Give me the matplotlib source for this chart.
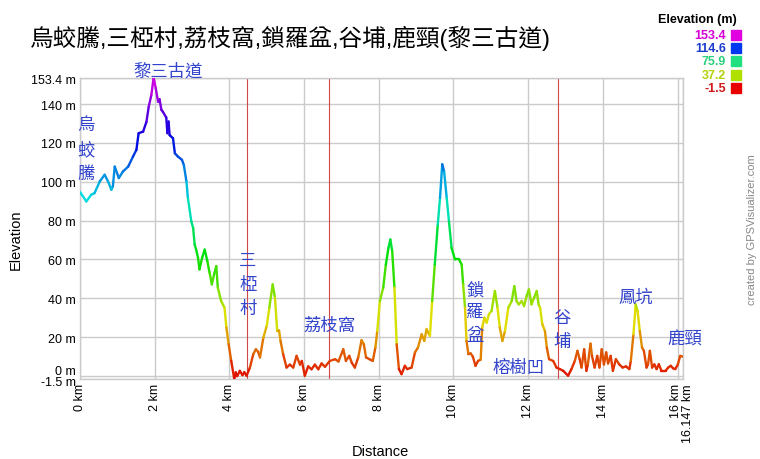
import matplotlib
matplotlib.use("Agg")
import matplotlib.pyplot as plt
import numpy as np
from matplotlib.collections import LineCollection
from matplotlib.colors import hsv_to_rgb
from matplotlib.transforms import ScaledTranslation

plt.rcParams['font.family'] = ['Liberation Sans', 'Noto Sans CJK TC', 'DejaVu Sans']

# ---------------- data ----------------
title = "烏蛟騰,三椏村,荔枝窩,鎖羅盆,谷埔,鹿頸(黎三古道)"

dist_km = [0.00, 0.17, 0.30, 0.39, 0.53, 0.66, 0.75, 0.84, 0.88, 0.93, 1.04, 1.15, 1.29, 1.42,
           1.51, 1.57, 1.69, 1.78, 1.84, 1.91, 1.97, 2.03, 2.09, 2.13, 2.18, 2.22, 2.31, 2.34,
           2.37, 2.40, 2.49, 2.54, 2.62, 2.73, 2.78, 2.85, 2.89, 2.98, 3.03, 3.07, 3.11, 3.16,
           3.20, 3.27, 3.34, 3.41, 3.47, 3.53, 3.59, 3.65, 3.69, 3.78, 3.87, 3.92, 3.98, 4.05,
           4.13, 4.17, 4.21, 4.28, 4.35, 4.40, 4.46, 4.55, 4.64, 4.71, 4.77, 4.82, 4.91, 5.00,
           5.07, 5.16, 5.22, 5.28, 5.33, 5.37, 5.44, 5.53, 5.62, 5.71, 5.80, 5.89, 5.94, 6.02,
           6.11, 6.20, 6.29, 6.38, 6.47, 6.56, 6.69, 6.83, 6.92, 7.05, 7.12, 7.21, 7.28, 7.36,
           7.45, 7.54, 7.60, 7.66, 7.75, 7.84, 7.91, 7.96, 8.03, 8.12, 8.19, 8.26, 8.31, 8.36,
           8.42, 8.48, 8.54, 8.61, 8.70, 8.76, 8.88, 8.97, 9.05, 9.15, 9.22, 9.28, 9.37, 9.43,
           9.50, 9.58, 9.64, 9.70, 9.75, 9.82, 9.88, 9.95, 10.04, 10.15, 10.22, 10.26, 10.31,
           10.35, 10.40, 10.46, 10.52, 10.59, 10.66, 10.73, 10.77, 10.83, 10.89, 10.95, 11.02,
           11.11, 11.18, 11.24, 11.31, 11.38, 11.47, 11.56, 11.63, 11.69, 11.75, 11.83, 11.89,
           11.96, 12.02, 12.09, 12.16, 12.23, 12.28, 12.32, 12.38, 12.45, 12.50, 12.56, 12.67,
           12.76, 12.85, 12.94, 13.07, 13.16, 13.25, 13.32, 13.38, 13.43, 13.50, 13.56, 13.60,
           13.67, 13.71, 13.78, 13.85, 13.91, 13.97, 14.03, 14.09, 14.14, 14.21, 14.27, 14.35,
           14.44, 14.53, 14.62, 14.71, 14.75, 14.82, 14.88, 14.93, 14.99, 15.05, 15.10, 15.17,
           15.21, 15.26, 15.32, 15.38, 15.44, 15.50, 15.57, 15.68, 15.75, 15.82, 15.88, 15.94,
           16.01, 16.07, 16.147]

elev_m = [94.7, 89.9, 93.3, 94.2, 100.2, 103.6, 100.2, 95.9, 97.6, 107.8, 101.9, 105.3, 107.8, 113.0,
          116.4, 125.0, 125.8, 130.9, 138.6, 144.6, 153.4, 148.0, 141.2, 142.5, 137.0, 136.0, 133.0, 125.0,
          131.0, 124.0, 122.4, 114.7, 113.0, 111.3, 108.7, 100.2, 91.6, 79.6, 76.2, 67.7, 65.1, 60.9,
          54.9, 60.9, 65.1, 59.1, 53.2, 47.2, 52.3, 56.6, 45.5, 38.6, 35.2, 25.0, 16.4, 7.8,
          -1.5, 1.9, 0.0, 2.7, 0.5, 2.0, 0.2, 4.4, 11.3, 13.8, 12.5, 9.6, 19.8, 25.8,
          35.2, 47.2, 40.4, 23.2, 23.5, 18.1, 11.3, 4.4, 5.9, 4.4, 10.4, 5.9, 7.8, 0.2,
          5.0, 3.5, 5.9, 3.5, 6.5, 4.8, 7.8, 8.7, 7.5, 13.8, 7.8, 10.4, 6.8, 4.4,
          9.6, 18.5, 16.4, 9.6, 8.7, 7.8, 14.7, 23.2, 38.6, 45.5, 57.4, 66.0, 70.3, 64.3,
          45.5, 16.4, 3.6, 1.0, 5.3, 3.6, 4.4, 12.2, 14.7, 21.5, 18.1, 24.1, 20.7, 38.6,
          57.4, 77.9, 91.6, 109.0, 105.3, 91.6, 79.6, 66.0, 60.0, 60.0, 57.4, 47.2, 35.2,
          18.1, 11.3, 11.7, 10.0, 5.3, 7.8, 8.5, 25.0, 30.1, 27.5, 31.8, 33.5,
          43.8, 35.2, 25.0, 18.1, 23.2, 35.2, 38.6, 46.3, 38.6, 36.9, 38.6, 36.0,
          41.2, 44.6, 36.9, 40.4, 43.8, 36.9, 35.2, 26.7, 23.2, 14.7, 8.7, 7.8,
          4.4, 3.6, 2.7, 0.2, 3.6, 7.8, 13.0, 8.7, 4.4, 13.8, 2.7, 6.0,
          16.7, 10.4, 4.4, 10.4, 4.4, 13.8, 6.0, 12.2, 6.5, 10.4, 2.7, 8.7,
          6.0, 4.4, 5.0, 3.6, 7.8, 21.5, 36.9, 33.5, 23.2, 14.7, 13.0, 4.4,
          6.0, 13.0, 4.4, 6.0, 3.6, 6.1, 2.7, 2.7, 4.4, 5.3, 4.0, 3.6,
          6.0, 10.4, 10.0]

waypoint_km = [4.48, 6.67, 12.80]

y_ticks = [-1.5, 0, 20, 40, 60, 80, 100, 120, 140, 153.4]
y_tick_labels = ["-1.5 m", "0 m", "20 m", "40 m", "60 m", "80 m", "100 m", "120 m", "140 m", "153.4 m"]
x_ticks = [0, 2, 4, 6, 8, 10, 12, 14, 16, 16.147]
x_tick_labels = ["0 km", "2 km", "4 km", "6 km", "8 km", "10 km", "12 km", "14 km", "16 km", "16.147 km"]

legend_values = ["153.4", "114.6", "75.9", "37.2", "-1.5"]
legend_text_colors = ["#d400d4", "#1a3ccc", "#2ad07a", "#b4d20a", "#d21a1a"]
legend_box_colors = ["#e000e0", "#0038f0", "#20e080", "#b0e000", "#e80000"]

# (text, distance km, elevation m) - centre of the label block
labels = [
    ("烏\n蛟\n騰", 0.16, 117),
    ("黎三古道", 2.36, 157.5),
    ("三\n椏\n村", 4.50, 47),
    ("荔枝窩", 6.69, 26.5),
    ("鎖\n羅\n盆", 10.58, 33),
    ("榕樹凹", 11.75, 4.6),
    ("谷\n埔", 12.90, 24),
    ("鳳坑", 14.89, 41),
    ("鹿頸", 16.20, 19.5),
]

# ---------------- figure ----------------
fig = plt.figure(figsize=(7.6, 4.6), dpi=100)
ax = fig.add_axes([80/760, 1-380/460, 603/760, 301/460])

ymin, ymax = -1.5, 153.4
xmax = 16.147
ax.set_xlim(0, xmax)
ax.set_ylim(ymin, ymax)

for y in y_ticks:
    ax.axhline(y, color="#cbcbcb", lw=1.0, zorder=1)
for x in x_ticks:
    ax.axvline(x, color="#cbcbcb", lw=1.0, zorder=1)
for w in waypoint_km:
    ax.axvline(w, color="#d04848", lw=0.8, zorder=2)

d = np.array(dist_km)
e = np.array(elev_m)
pts = np.column_stack([d, e]).reshape(-1, 1, 2)
segs = np.concatenate([pts[:-1], pts[1:]], axis=1)
mid = (e[:-1] + e[1:]) / 2
f = np.clip((mid - ymin) / (ymax - ymin), 0, 1)
hsv = np.column_stack([f * 300 / 360, np.ones_like(f), np.full_like(f, 0.88)])
cols = hsv_to_rgb(hsv)
lc = LineCollection(segs, colors=cols, linewidths=1.7, zorder=3)
lc.set_capstyle('round')
lc.set_joinstyle('round')
ax.add_collection(lc)

for s in ax.spines.values():
    s.set_color("#cbcbcb")
    s.set_linewidth(1.0)

ax.set_yticks(y_ticks)
ax.set_yticklabels(y_tick_labels, fontsize=9)
ax.set_xticks(x_ticks)
ax.set_xticklabels(x_tick_labels, fontsize=9, rotation=90)
ax.tick_params(length=0, pad=3)

# nudge crowded tick labels apart as in the reference
yl = ax.get_yticklabels()
yl[1].set_transform(yl[1].get_transform() + ScaledTranslation(0, 7/100, fig.dpi_scale_trans))
yl[0].set_transform(yl[0].get_transform() + ScaledTranslation(0, -2/100, fig.dpi_scale_trans))
xl = ax.get_xticklabels()
xl[-1].set_transform(xl[-1].get_transform() + ScaledTranslation(5/100, 0, fig.dpi_scale_trans))
xl[-2].set_transform(xl[-2].get_transform() + ScaledTranslation(-2/100, 0, fig.dpi_scale_trans))

fig.text(16/760, 1-240/460, "Elevation", fontsize=10.5, rotation=90, ha="center", va="center")
fig.text(380/760, 1-452/460, "Distance", fontsize=10.5, ha="center", va="center")

lab_color = "#3344cc"
for txt, x, y in labels:
    ax.text(x, y, txt, color=lab_color, fontsize=12.5, ha="center", va="center",
            linespacing=1.6, zorder=4, clip_on=False)

fig.text(30/760, 1-38/460, title, fontsize=17, ha="left", va="center", color="black")

# legend
fig.text(737/760, 1-20/460, "Elevation (m)", fontsize=9, fontweight="bold", ha="right", va="center")
for i, (v, tc, bc) in enumerate(zip(legend_values, legend_text_colors, legend_box_colors)):
    yy = 36 + i * 13.2
    fig.text(726/760, 1-yy/460, v, fontsize=9, fontweight="bold", color=tc, ha="right", va="center")
    fig.patches.append(plt.Rectangle((731/760, 1-(yy+5)/460), 10/760, 10/460,
                                     transform=fig.transFigure, color=bc, figure=fig))

fig.text(752/760, 1-230/460, "created by GPSVisualizer.com", fontsize=8, color="#888888",
         rotation=90, ha="center", va="center")

fig.savefig("out.png", dpi=100)
